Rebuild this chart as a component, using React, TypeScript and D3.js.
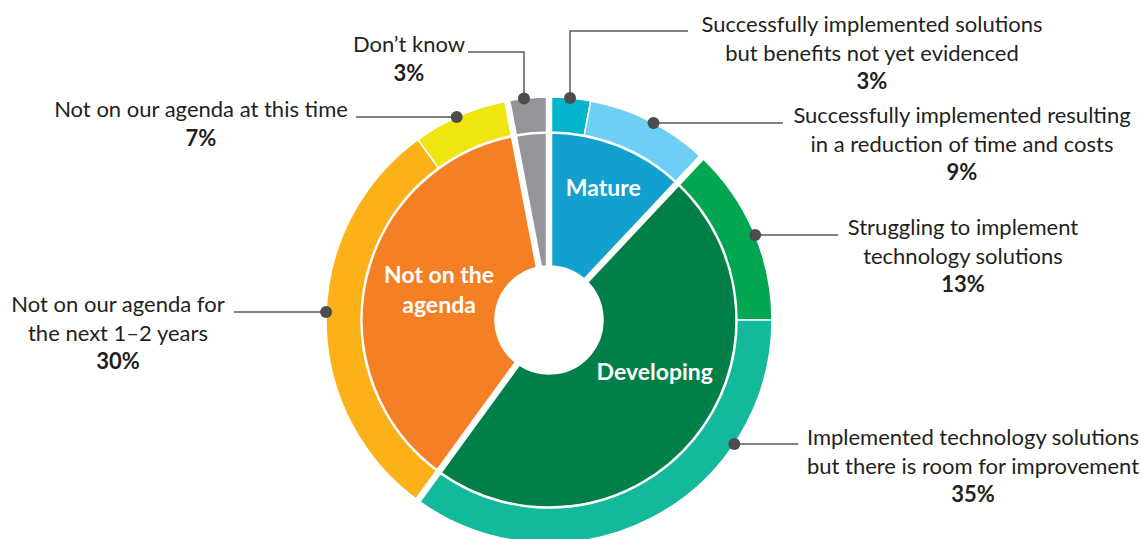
import React from "react";
import * as d3 from "d3";

// survey answers, in the order they go round the ring (clockwise from 12 o'clock)
const segmentLabels = [
  ["Successfully implemented solutions", "but benefits not yet evidenced"],
  ["Successfully implemented resulting", "in a reduction of time and costs"],
  ["Struggling to implement", "technology solutions"],
  ["Implemented technology solutions", "but there is room for improvement"],
  ["Not on our agenda for", "the next 1\u20132 years"],
  ["Not on our agenda at this time"],
  ["Don\u2019t know"],
];
const segmentValues = [3, 9, 13, 35, 30, 7, 3];
const segmentGroup = [0, 0, 1, 1, 2, 2, 3];
const segmentColors = ["#00B5CB", "#6DCFF6", "#00A651", "#12B99A", "#FBB117", "#EFE60F", "#939598"];

const groupLabels = [["Mature"], ["Developing"], ["Not on the", "agenda"], [""]];
const groupColors = ["#12A0CE", "#007F48", "#F47F24", "#939598"];

// where the callouts sit (layout only)
const callouts = [
  { tx: 872, ty: 32, vx: 570, ly: 31, lx: 688 },
  { tx: 962, ty: 123, ly: 123, lx: 783 },
  { tx: 963, ty: 235, ly: 235, lx: 838 },
  { tx: 973, ty: 445, ly: 444, lx: 798 },
  { tx: 118, ty: 312, ly: 312, lx: 234 },
  { tx: 201, ty: 117, ly: 117, lx: 356 },
  { tx: 409, ty: 52, vx: 524, ly: 52, lx: 468 },
];
const groupLabelPos = [
  { a: 0.39, r: 143 },
  { a: 2.03, r: 118 },
  { a: 4.98, r: 114 },
  { a: 0, r: 0 },
];

const W = 1142;
const H = 539;
const cx = 549;
const cy = 320;
const R = 223;
const ringIn = 188;
const pieOut = 187;
const hole = 54;
const font = "Lato, 'Open Sans', sans-serif";
const ink = "#231F20";

export default function App() {
  const pie = d3.pie<number>().sort(null).value((d) => d);
  const outer = pie(segmentValues);
  const groupSums = groupColors.map((_, g) =>
    d3.sum(segmentValues.filter((_, i) => segmentGroup[i] === g))
  );
  const inner = pie(groupSums);

  const outerArc = d3.arc<d3.PieArcDatum<number>>().innerRadius(ringIn).outerRadius(R);
  const innerArc = d3.arc<d3.PieArcDatum<number>>().innerRadius(hole).outerRadius(pieOut);

  const boundaries = inner.map((d) => d.startAngle);
  const lh = 28.5;

  return (
    <svg
      width={W}
      height={H}
      style={{ position: "absolute", left: 0, top: 0, display: "block", background: "#fff" }}
    >
      <g transform={`translate(${cx},${cy})`}>
        {inner.map((d, i) => (
          <path key={"i" + i} d={innerArc(d) || ""} fill={groupColors[i]} stroke="#fff" strokeWidth={1.5} />
        ))}
        {outer.map((d, i) => (
          <path key={"o" + i} d={outerArc(d) || ""} fill={segmentColors[i]} stroke="#fff" strokeWidth={1.5} />
        ))}
        {boundaries.map((a, i) => (
          <line
            key={"b" + i}
            x1={0}
            y1={0}
            x2={Math.sin(a) * (R + 5)}
            y2={-Math.cos(a) * (R + 5)}
            stroke="#fff"
            strokeWidth={6.5}
          />
        ))}
        <circle r={hole} fill="#fff" />
        {groupLabels.map((lines, i) => {
          const p = groupLabelPos[i];
          const x = Math.sin(p.a) * p.r;
          const y = -Math.cos(p.a) * p.r;
          return (
            <text
              key={"g" + i}
              x={x}
              y={y - ((lines.length - 1) * 30) / 2 + 8}
              textAnchor="middle"
              fill="#fff"
              fontFamily={font}
              fontWeight={700}
              fontSize={23}
            >
              {lines.map((t, j) => (
                <tspan key={j} x={x} dy={j === 0 ? 0 : 30}>
                  {t}
                </tspan>
              ))}
            </text>
          );
        })}
      </g>
      {callouts.map((c, i) => {
        const left = outer[i].startAngle > Math.PI;
        let dot: [number, number];
        let path: string;
        if (c.vx !== undefined) {
          const dx = c.vx - cx;
          dot = [c.vx, cy - Math.sqrt(R * R - dx * dx)];
          path = `M${c.vx},${dot[1]}V${c.ly}H${c.lx}`;
        } else {
          const dy = c.ly - cy;
          const x = cx + (left ? -1 : 1) * Math.sqrt(R * R - dy * dy);
          dot = [x, c.ly];
          path = `M${x},${c.ly}H${c.lx}`;
        }
        const lines = segmentLabels[i];
        return (
          <g key={"c" + i}>
            <path d={path} fill="none" stroke="#58595B" strokeWidth={1.5} />
            <circle cx={dot[0]} cy={dot[1]} r={6} fill="#4D4D4F" />
            <text textAnchor="middle" fill={ink} fontFamily={font} fontSize={22}>
              {lines.map((t, j) => (
                <tspan key={j} x={c.tx} y={c.ty + j * lh}>
                  {t}
                </tspan>
              ))}
              <tspan x={c.tx} y={c.ty + lines.length * lh} fontWeight={700}>
                {segmentValues[i] + "%"}
              </tspan>
            </text>
          </g>
        );
      })}
    </svg>
  );
}
